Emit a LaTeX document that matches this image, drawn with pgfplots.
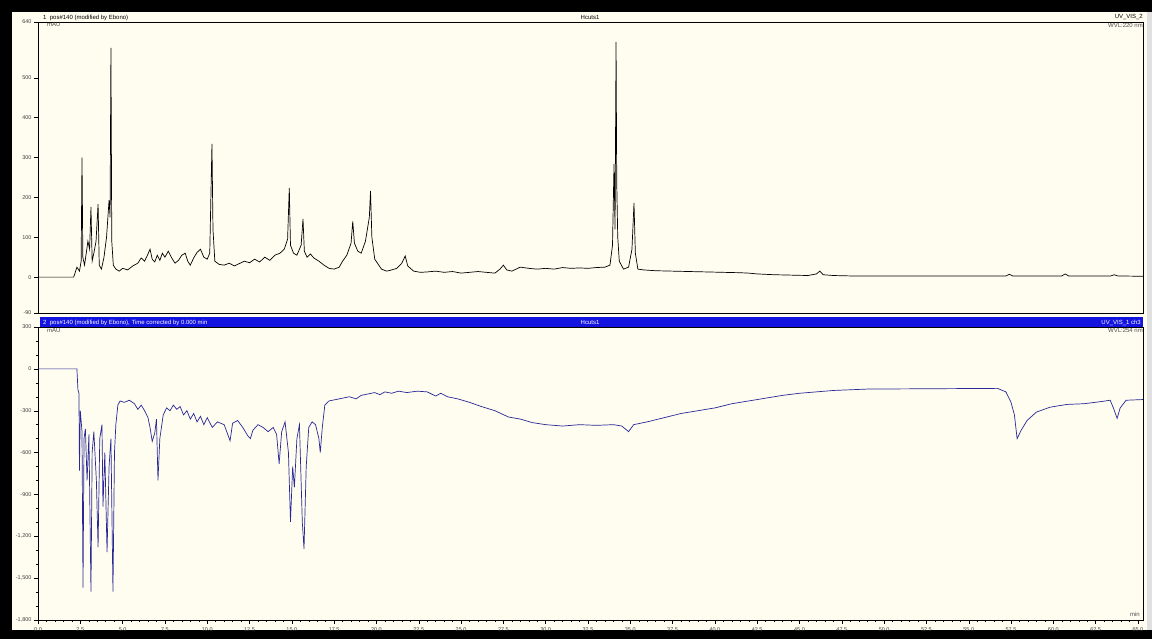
\documentclass[border=0pt]{standalone}
\usepackage{pgfplots}
\pgfplotsset{compat=1.18}
\usepackage{fontspec}
\setmainfont{Liberation Sans}
\definecolor{ivory}{RGB}{255,252,240}
\definecolor{barblue}{RGB}{20,20,225}
\definecolor{trace}{RGB}{40,40,150}
\begin{document}
\begin{tikzpicture}[x=1pt,y=1pt]
\fill[black] (0,0) rectangle (1152,639);
\fill[ivory] (12,9) rectangle (1147,627);
\fill[black!12] (1147,9) rectangle (1152,627);
\pgfplotsset{chrom/.style={scale only axis, width=1105pt, xmin=0, xmax=65.3,
  axis line style={line width=0.6pt}, tick style={black, line width=0.4pt},
  tick align=outside, tick pos=left, major tick length=4pt, minor tick length=2pt,
  ticklabel style={font=\fontsize{5.5}{6}\selectfont, text=black!75},
  /pgf/number format/assume math mode=true, /pgf/number format/1000 sep={,},
  yticklabel style={xshift=1pt}}}
% ---------- upper panel ----------
\begin{axis}[chrom, at={(38pt,326pt)}, anchor=south west, height=291pt,
  ymin=-90, ymax=640, ytick={-90,0,100,200,300,400,500,640}, minor y tick num=3,
  xtick=\empty]
\addplot[black, line width=0.7pt] coordinates {
(0,0) (2.10,0) (2.15,5) (2.30,25) (2.45,15) (2.55,40) (2.60,300) (2.65,50) (2.75,30)
(2.85,60) (2.95,90) (3.05,70) (3.13,176) (3.20,40) (3.30,60) (3.43,90) (3.55,183)
(3.62,30) (3.75,20) (3.90,50) (4.05,100) (4.20,193) (4.26,150) (4.31,575) (4.36,90)
(4.45,30) (4.60,20) (4.80,15) (5.0,22) (5.3,18) (5.6,28) (5.9,35) (6.1,48) (6.3,40)
(6.5,58) (6.62,70) (6.75,45) (6.9,38) (7.05,55) (7.2,42) (7.35,60) (7.5,50) (7.7,65)
(7.9,48) (8.1,35) (8.3,42) (8.5,55) (8.7,60) (8.85,40) (9.0,30) (9.2,48) (9.4,62)
(9.6,70) (9.8,50) (10.0,45) (10.15,60) (10.28,334) (10.34,120) (10.45,40) (10.7,32)
(11.0,30) (11.3,35) (11.6,28) (11.9,34) (12.2,40) (12.5,36) (12.8,45) (13.1,38)
(13.4,50) (13.7,42) (14.0,55) (14.3,60) (14.55,70) (14.75,95) (14.85,224) (14.92,80)
(15.1,60) (15.3,55) (15.55,80) (15.66,146) (15.74,65) (15.9,50) (16.1,58) (16.3,48)
(16.6,40) (16.9,30) (17.2,22) (17.5,20) (17.8,25) (18.0,40) (18.25,55) (18.5,85)
(18.6,140) (18.7,85) (18.9,65) (19.1,60) (19.35,90) (19.58,150) (19.65,216)
(19.73,100) (19.9,45) (20.3,20) (20.6,15) (20.9,18) (21.2,22) (21.5,35) (21.7,53)
(21.85,28) (22.2,15) (22.6,12) (23.0,13) (23.5,15) (24.0,12) (24.5,14) (25.0,10)
(25.5,12) (26.0,14) (26.5,12) (27.0,10) (27.3,20) (27.5,30) (27.7,18) (28.0,15)
(28.5,25) (29.0,22) (29.5,20) (30.0,22) (30.5,20) (31.0,24) (31.5,22) (32.0,23)
(32.5,22) (33.0,24) (33.5,25) (33.8,30) (33.95,80) (34.04,284) (34.10,120)
(34.16,590) (34.20,236) (34.26,100) (34.35,40) (34.6,20) (34.9,25) (35.1,70)
(35.22,186) (35.3,60) (35.45,20) (35.8,18) (36.5,16) (37.5,15) (38.5,14) (39.5,13)
(40.5,12) (41.5,11) (42.0,10) (42.5,8) (43.5,6) (44.5,5) (45.5,4) (46.0,8) (46.2,15)
(46.4,6) (47.0,4) (48.0,3) (50.0,3) (54.0,3) (57.2,3) (57.4,7) (57.6,3) (60.5,3)
(60.7,8) (60.9,3) (63.4,3) (63.6,6) (63.8,3) (65.3,2)};
\end{axis}
% ---------- lower panel ----------
\begin{axis}[chrom, at={(38pt,19pt)}, anchor=south west, height=293pt,
  ymin=-1800, ymax=300, ytick={-1800,-1500,-1200,-900,-600,-300,0,300}, minor y tick num=2,
  xtick={0,2.5,...,65.01}, minor x tick num=4,
  xticklabel style={/pgf/number format/.cd, fixed, fixed zerofill, precision=1}]
\addplot[trace, line width=0.7pt] coordinates {
(0,0) (2.30,0) (2.36,-150) (2.42,-175) (2.45,-730) (2.50,-300) (2.60,-450) (2.66,-1568)
(2.72,-500) (2.80,-430) (2.90,-800) (3.01,-470) (3.13,-1597) (3.20,-600) (3.30,-450)
(3.45,-800) (3.55,-1278) (3.65,-500) (3.78,-400) (3.84,-987) (3.95,-600) (4.08,-1314)
(4.20,-700) (4.31,-500) (4.43,-1597) (4.52,-600) (4.60,-400) (4.72,-260) (4.85,-230)
(5.10,-240) (5.40,-225) (5.70,-250) (5.90,-290) (6.10,-260) (6.30,-300) (6.50,-350)
(6.62,-420) (6.75,-520) (6.90,-460) (7.00,-360) (7.09,-800) (7.20,-500) (7.40,-330)
(7.60,-280) (7.80,-300) (8.00,-260) (8.20,-290) (8.40,-270) (8.60,-330) (8.80,-300)
(9.00,-360) (9.20,-320) (9.40,-380) (9.60,-340) (9.80,-400) (10.00,-350) (10.30,-420)
(10.60,-380) (11.00,-400) (11.35,-515) (11.50,-390) (11.80,-370) (12.10,-420)
(12.40,-480) (12.55,-500) (12.70,-440) (13.00,-400) (13.30,-420) (13.60,-450)
(13.90,-420) (14.10,-470) (14.25,-680) (14.40,-450) (14.60,-380) (14.80,-600)
(14.92,-1096) (15.05,-700) (15.15,-850) (15.30,-500) (15.45,-400) (15.62,-1100)
(15.72,-1290) (15.85,-700) (16.00,-420) (16.20,-380) (16.40,-400) (16.60,-500)
(16.68,-600) (16.80,-420) (16.95,-260) (17.20,-230) (17.60,-220) (18.00,-210)
(18.40,-200) (18.80,-215) (19.10,-190) (19.50,-180) (19.90,-170) (20.20,-185)
(20.50,-165) (20.90,-175) (21.30,-160) (21.80,-170) (22.40,-160) (23.00,-165)
(23.50,-195) (23.80,-175) (24.20,-200) (24.80,-215) (25.50,-240) (26.20,-270)
(27.00,-300) (27.80,-345) (28.50,-360) (29.20,-385) (30.00,-400) (31.00,-410)
(32.00,-400) (33.00,-405) (34.00,-400) (34.50,-410) (34.90,-450) (35.20,-400)
(36.00,-380) (37.00,-350) (38.00,-320) (39.00,-300) (40.00,-280) (41.00,-250)
(42.00,-230) (43.00,-210) (44.00,-190) (45.00,-175) (46.00,-165) (47.00,-155)
(48.00,-150) (49.00,-145) (52.00,-143) (56.70,-140) (57.20,-165) (57.50,-240)
(57.70,-330) (57.86,-500) (58.10,-440) (58.45,-370) (59.00,-310) (59.80,-275)
(60.80,-255) (61.80,-250) (62.80,-235) (63.36,-225) (63.55,-280) (63.77,-355)
(63.95,-280) (64.30,-225) (65.30,-220)};
\end{axis}
% ---------- header texts ----------
\fill[barblue] (40,312) rectangle (1143,322);
\begin{scope}[every node/.style={font=\fontsize{6}{7}\selectfont, inner sep=0pt}]
\node[anchor=base west] at (43,619) {1\ \ pos\#140 (modified by Ebono)};
\node[anchor=base] at (590,619) {Hcuts1};
\node[anchor=base east] at (1143,620) {UV\_VIS\_2};
\node[anchor=base east, text=black!70] at (1143,611) {WVL:220 nm};
\node[anchor=base west, text=black!70] at (47,612) {mAU};
\node[anchor=base west, text=white] at (43,314.5) {2\ \ pos\#140 (modified by Ebono), Time corrected by 0.000 min};
\node[anchor=base, text=white] at (590,314.5) {Hcuts1};
\node[anchor=base east, text=white] at (1141,314.5) {UV\_VIS\_1 ch3};
\node[anchor=base east, text=black!70] at (1143,306) {WVL:254 nm};
\node[anchor=base west, text=black!70] at (47,306) {mAU};
\node[anchor=base east, text=black!70] at (1140,22) {min};
\end{scope}
\end{tikzpicture}
\end{document}
